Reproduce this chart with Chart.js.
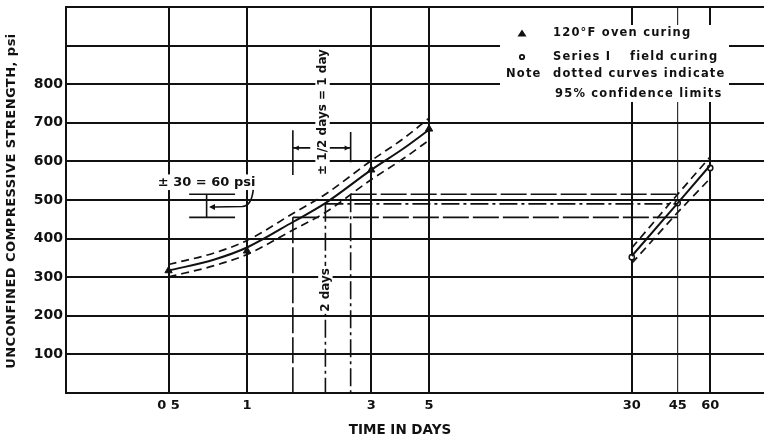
<!DOCTYPE html>
<html>
<head>
<meta charset="utf-8">
<title>Unconfined compressive strength vs. curing time</title>
<script src="https://cdn.jsdelivr.net/npm/chart.js@4.4.1/dist/chart.umd.min.js"></script>
<style>
  html, body { margin: 0; padding: 0; background: #fff; }
  #box { width: 764px; height: 442px; }
</style>
</head>
<body>
<div id="box"><canvas id="chart" width="764" height="442"></canvas></div>
<script>
// Axis ticks: time in days (log scale) and strength in psi
const dayTicks = [0.5, 1, 3, 5, 30, 45, 60];
const dayTickLabels = ['0 5', '1', '3', '5', '30', '45', '60'];
const strengthTicks = [100, 200, 300, 400, 500, 600, 700, 800];

// Test results
const ovenDays = [0.5, 1, 3, 5];
const ovenPsi = [317, 368, 578, 684];
const fieldDays = [30, 45, 60];
const fieldPsi = [352, 492, 583];

// 120°F oven curing: fitted curve and 95% confidence limits
const ovenFitDays = [0.5, 0.75, 1, 1.5, 2, 3, 4, 5];
const ovenFitPsi = [317, 346, 377, 443, 492, 578, 634, 682];
const ovenUpperPsi = [333, 363, 395, 465, 515, 602, 660, 712];
const ovenLowerPsi = [301, 330, 359, 422, 468, 553, 608, 655];

// Field curing: fitted line and 95% confidence limits
const fieldFitDays = [30, 45, 60];
const fieldFitPsi = [355, 492, 590];
const fieldUpperPsi = [376, 515, 612];
const fieldLowerPsi = [336, 468, 556];

// Equivalence: 2 ± 1/2 days in the oven against 45 days in the field
const equivDays = [1.5, 2, 2.5];
const equivPsi = [455, 490, 515];
const equivFieldDay = 45;

// ± 30 psi band
const psiBand = [455, 515];

const ink = '#111';
const family = '"DejaVu Sans", "Liberation Sans", sans-serif';

const pts = (xs, ys) => xs.map((x, i) => ({ x, y: ys[i] }));
const line = (data, extra) => Object.assign({
  data, showLine: true, pointRadius: 0, pointHoverRadius: 0,
  borderColor: ink, backgroundColor: ink, borderWidth: 2, fill: false, tension: 0
}, extra);

const confDash = [8, 5];
const longDash = [26, 4];
const dashDot = [18, 4, 3, 4];

const datasets = [
  line(pts(ovenFitDays, ovenFitPsi), { cubicInterpolationMode: 'monotone' }),
  line(pts(ovenFitDays, ovenUpperPsi), { cubicInterpolationMode: 'monotone', borderDash: confDash, borderWidth: 1.7 }),
  line(pts(ovenFitDays, ovenLowerPsi), { cubicInterpolationMode: 'monotone', borderDash: confDash, borderWidth: 1.7 }),
  line(pts(fieldFitDays, fieldFitPsi), {}),
  line(pts(fieldFitDays, fieldUpperPsi), { borderDash: confDash, borderWidth: 1.7 }),
  line(pts(fieldFitDays, fieldLowerPsi), { borderDash: confDash, borderWidth: 1.7 }),
];

// equivalence construction lines: horizontals to the field line, verticals down to the axis
equivDays.forEach((d, i) => {
  datasets.push(line([{ x: d, y: equivPsi[i] }, { x: equivFieldDay, y: equivPsi[i] }],
    { borderDash: i === 1 ? dashDot : longDash, borderWidth: 1.6 }));
  datasets.push(line([{ x: d, y: equivPsi[i] }, { x: d, y: 0 }],
    { borderDash: i === 0 ? longDash : dashDot, borderWidth: 1.6 }));
});

// ± 30 psi bracket
datasets.push(line([
  { x: 0.6, y: psiBand[1] }, { x: 0.9, y: psiBand[1] }, { x: 0.9, y: null },
  { x: 0.6, y: psiBand[0] }, { x: 0.9, y: psiBand[0] }, { x: 0.9, y: null },
  { x: 0.7, y: psiBand[0] }, { x: 0.7, y: psiBand[1] }
], { borderWidth: 1.6, spanGaps: false }));

// ± 1/2 day bracket above the curve
datasets.push(line([
  { x: equivDays[0], y: 565 }, { x: equivDays[0], y: 681 }, { x: equivDays[0], y: null },
  { x: equivDays[2], y: 598 }, { x: equivDays[2], y: 676 }, { x: equivDays[2], y: null },
  { x: equivDays[0], y: 635 }, { x: 1.75, y: 635 }, { x: 1.75, y: null },
  { x: 2.07, y: 635 }, { x: equivDays[2], y: 635 }
], { borderWidth: 1.6, spanGaps: false }));

// measured points
datasets.push({
  data: pts(ovenDays, ovenPsi), pointStyle: 'triangle', pointRadius: 4.2,
  pointBackgroundColor: ink, pointBorderColor: ink, pointBorderWidth: 1, showLine: false
});
datasets.push({
  data: pts(fieldDays, fieldPsi), pointStyle: 'circle', pointRadius: 2.6,
  pointBackgroundColor: '#fff', pointBorderColor: ink, pointBorderWidth: 1.5, showLine: false
});

function label(ctx, s, x, y, o = {}) {
  const size = o.size || 13, align = o.align || 'center';
  ctx.save();
  ctx.translate(x, y);
  if (o.rotate) ctx.rotate(o.rotate);
  ctx.font = `bold ${size}px ${family}`;
  ctx.letterSpacing = (o.spacing || 0) + 'px';
  ctx.textAlign = align;
  ctx.textBaseline = 'middle';
  const w = ctx.measureText(s).width;
  if (o.bg) {
    const x0 = align === 'center' ? -w / 2 : align === 'left' ? 0 : -w;
    ctx.fillStyle = '#fff';
    ctx.fillRect(x0 - 2, -size * 0.6, w + 4, size * 1.2);
  }
  ctx.fillStyle = ink;
  ctx.fillText(s, 0, 0);
  ctx.restore();
}

function arrowHead(ctx, x, y, dir, len = 6, half = 3) {
  ctx.beginPath();
  ctx.moveTo(x, y);
  ctx.lineTo(x - dir * len, y - half);
  ctx.lineTo(x - dir * len, y + half);
  ctx.closePath();
  ctx.fill();
}

const overlay = {
  id: 'overlay',
  afterDatasetsDraw(chart) {
    const { ctx, scales: { x, y } } = chart;
    const px = d => x.getPixelForValue(d), py = v => y.getPixelForValue(v);
    ctx.save();
    ctx.fillStyle = ink;
    ctx.strokeStyle = ink;
    ctx.lineWidth = 1.6;

    // ± 30 = 60 psi note and its arrow
    label(ctx, '± 30 = 60 psi', px(0.70), py(546), { size: 13, bg: true });
    ctx.beginPath();
    ctx.moveTo(px(1.057), py(526));
    ctx.quadraticCurveTo(px(1.04), py(484), px(0.96), py(483));
    ctx.lineTo(px(0.75), py(482));
    ctx.stroke();
    arrowHead(ctx, px(0.715), py(482), -1);

    // ± 1/2 day bracket arrowheads and notes
    arrowHead(ctx, px(equivDays[0]) + 1, py(635), -1, 5, 2.5);
    arrowHead(ctx, px(equivDays[2]) - 1, py(635), 1, 5, 2.5);
    label(ctx, '± 1/2 days = 1 day', px(1.95), py(565), { size: 12, align: 'left', rotate: -Math.PI / 2, bg: true });
    label(ctx, '2 days', px(2), py(267), { size: 12, rotate: -Math.PI / 2, bg: true });

    // key
    ctx.fillStyle = '#fff';
    ctx.fillRect(500, 25, 229, 77);
    ctx.fillStyle = ink;
    ctx.beginPath();
    ctx.moveTo(522, 29.5); ctx.lineTo(526.5, 36.5); ctx.lineTo(517.5, 36.5); ctx.closePath();
    ctx.fill();
    ctx.beginPath();
    ctx.arc(522, 57, 2.2, 0, Math.PI * 2);
    ctx.lineWidth = 1.8;
    ctx.stroke();
    const k = { size: 11.5, align: 'left', spacing: 1.2 };
    label(ctx, '120°F oven curing', 553, 33.5, k);
    label(ctx, 'Series I', 553, 57, k);
    label(ctx, 'field curing', 630, 57, k);
    label(ctx, 'Note', 506, 74, k);
    label(ctx, 'dotted curves indicate', 553, 74, k);
    label(ctx, '95% confidence limits', 555, 94, k);

    // axis titles
    label(ctx, 'UNCONFINED COMPRESSIVE STRENGTH, psi', 12, 201, { size: 13, rotate: -Math.PI / 2, spacing: 0.45 });
    label(ctx, 'TIME IN DAYS', 400, 430, { size: 13.5 });
    ctx.restore();
  }
};

new Chart(document.getElementById('chart'), {
  type: 'scatter',
  data: { datasets },
  options: {
    responsive: false,
    animation: false,
    devicePixelRatio: 1,
    layout: { autoPadding: false, padding: { top: 7, right: 0, left: 0, bottom: 0 } },
    plugins: { legend: { display: false }, tooltip: { enabled: false } },
    scales: {
      x: {
        type: 'logarithmic', min: 0.202, max: 96.5,
        afterBuildTicks: s => { s.ticks = dayTicks.map(v => ({ value: v })); },
        afterFit: s => { s.height = 49; s.paddingLeft = 0; s.paddingRight = 0; },
        ticks: {
          autoSkip: false, maxRotation: 0, padding: 5, color: ink,
          font: { family, size: 13, weight: 'bold' },
          callback: (v, i) => dayTickLabels[i]
        },
        grid: {
          drawTicks: false,
          color: c => (c.tick && c.tick.value === 45) ? '#333' : ink,
          lineWidth: c => (c.tick && c.tick.value === 45) ? 1.2 : 2
        },
        border: { display: true, color: ink, width: 2 }
      },
      y: {
        min: 0, max: 1000,
        afterFit: s => { s.width = 66; s.paddingTop = 0; s.paddingBottom = 0; },
        ticks: {
          stepSize: 100, padding: 3, color: ink,
          font: { family, size: 14, weight: 'bold' },
          callback: v => strengthTicks.includes(v) ? String(v) : ''
        },
        grid: { drawTicks: false, color: ink, lineWidth: 2 },
        border: { display: true, color: ink, width: 2 }
      }
    }
  },
  plugins: [overlay]
});
</script>
</body>
</html>
